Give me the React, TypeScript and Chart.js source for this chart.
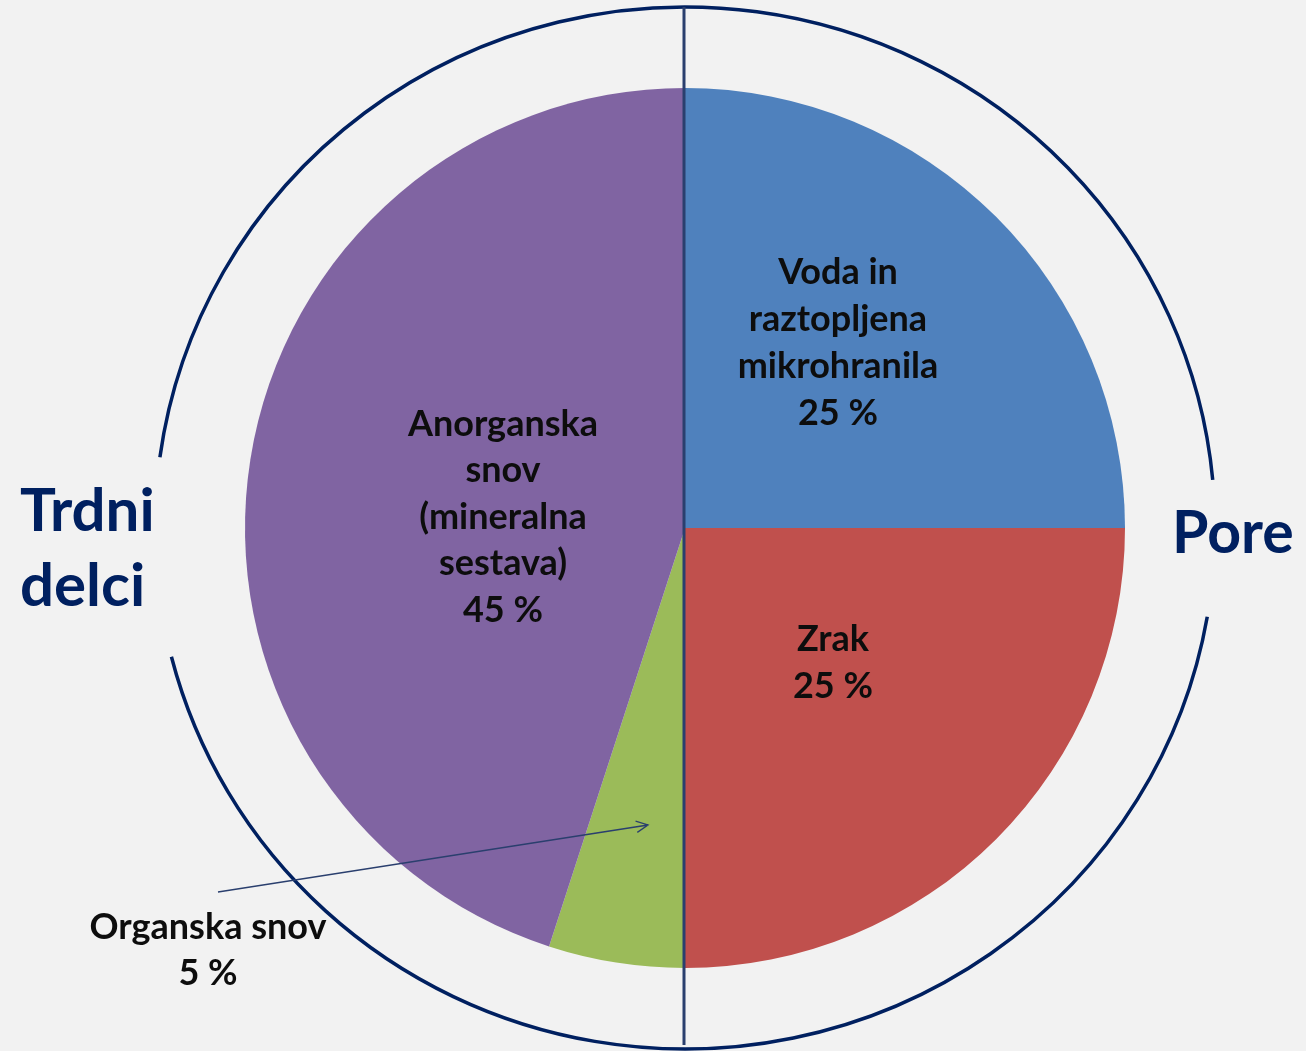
import React, { useEffect, useRef } from "react";
import { Chart, registerables } from "chart.js";

Chart.register(...registerables);

const categories = [
  "Voda in raztopljena mikrohranila",
  "Zrak",
  "Organska snov",
  "Anorganska snov (mineralna sestava)",
];
const values = [25, 25, 5, 45];
const colors = ["#4F81BD", "#C0504D", "#9BBB59", "#8064A2"];
const labelLines = [
  ["Voda in", "raztopljena", "mikrohranila"],
  ["Zrak"],
  ["Organska snov"],
  ["Anorganska", "snov", "(mineralna", "sestava)"],
];
const groupLabels = [["Trdni", "delci"], ["Pore"]];

const W = 1306;
const H = 1051;
const CX = 685;
const CY = 528;
const R = 440;
const RX = 530;
const RY = 521;

const FONT = "Lato, 'Open Sans', sans-serif";

const overlayPlugin = {
  id: "overlay",
  afterDraw(chart: any) {
    const ctx = chart.ctx;
    const arc = chart.getDatasetMeta(0).data[0];
    const cx = arc.x;
    const cy = arc.y;
    const k = arc.outerRadius / R;
    const rx = RX * k;
    const ry = RY * k;
    ctx.save();
    const deg = Math.PI / 180;
    ctx.strokeStyle = "#002060";
    ctx.lineWidth = 3.5;
    ctx.beginPath();
    ctx.ellipse(cx, cy, rx, ry, 0, 9.8 * deg, 165.7 * deg);
    ctx.stroke();
    ctx.beginPath();
    ctx.ellipse(cx, cy, rx, ry, 0, 187.8 * deg, 354.7 * deg);
    ctx.stroke();
    // vertical line
    ctx.strokeStyle = "#2A3F6E";
    ctx.lineWidth = 3;
    ctx.beginPath();
    ctx.moveTo(cx - 1, cy - ry);
    ctx.lineTo(cx - 1, cy + ry - 4);
    ctx.stroke();
    // arrow
    const x1 = 218, y1 = 892, x2 = 648, y2 = 825;
    ctx.strokeStyle = "#2A3F6E";
    ctx.lineWidth = 1.3;
    ctx.beginPath();
    ctx.moveTo(x1, y1);
    ctx.lineTo(x2, y2);
    const a = Math.atan2(y2 - y1, x2 - x1);
    const hl = 13;
    ctx.moveTo(x2 - hl * Math.cos(a - 0.45), y2 - hl * Math.sin(a - 0.45));
    ctx.lineTo(x2, y2);
    ctx.lineTo(x2 - hl * Math.cos(a + 0.45), y2 - hl * Math.sin(a + 0.45));
    ctx.stroke();
    ctx.restore();
  },
};

type Lbl = { lines: string[]; x: number; y: number; align?: string; size: number; color: string; lh: number };

export default function App() {
  const ref = useRef<HTMLCanvasElement>(null);
  useEffect(() => {
    const chart = new Chart(ref.current!, {
      type: "pie",
      data: {
        labels: categories,
        datasets: [
          {
            data: values,
            backgroundColor: colors,
            borderWidth: 0,
          },
        ],
      },
      options: {
        responsive: false,
        animation: false,
        layout: {
          padding: { left: CX - R, right: W - CX - R, top: CY - R, bottom: H - CY - R },
        },
        plugins: {
          legend: { display: false },
          tooltip: { enabled: false },
          title: { display: false },
        },
      },
      plugins: [overlayPlugin],
    });
    return () => chart.destroy();
  }, []);

  const pct = (i: number) => `${values[i]} %`;
  const labels: Lbl[] = [
    { lines: [...labelLines[0], pct(0)], x: 838, y: 270, size: 36, color: "#0D0D0D", lh: 47 },
    { lines: [...labelLines[1], pct(1)], x: 833, y: 637, size: 36, color: "#0D0D0D", lh: 47 },
    { lines: [...labelLines[2], pct(2)], x: 208, y: 925, size: 36, color: "#0D0D0D", lh: 46 },
    { lines: [...labelLines[3], pct(3)], x: 503, y: 422, size: 36, color: "#0D0D0D", lh: 46.5 },
    { lines: groupLabels[0], x: 20, y: 508, align: "left", size: 60, color: "#002060", lh: 75 },
    { lines: groupLabels[1], x: 1172, y: 530, align: "left", size: 59, color: "#002060", lh: 75 },
  ];

  return (
    <div
      style={{
        position: "absolute",
        left: 0,
        top: 0,
        width: W,
        height: H,
        background: "#F2F2F2",
        overflow: "hidden",
        fontFamily: FONT,
      }}
    >
      <canvas ref={ref} width={W} height={H} style={{ position: "absolute", left: 0, top: 0 }} />
      {labels.map((l, i) =>
        l.lines.map((t, j) => (
          <div
            key={`${i}-${j}`}
            style={{
              position: "absolute",
              left: l.align === "left" ? l.x : l.x - 300,
              width: l.align === "left" ? undefined : 600,
              top: l.y + j * l.lh - l.lh / 2,
              height: l.lh,
              lineHeight: `${l.lh}px`,
              textAlign: l.align === "left" ? "left" : "center",
              fontSize: l.size,
              fontWeight: 700,
              color: l.color,
              whiteSpace: "nowrap",
            }}
          >
            {t}
          </div>
        ))
      )}
    </div>
  );
}
